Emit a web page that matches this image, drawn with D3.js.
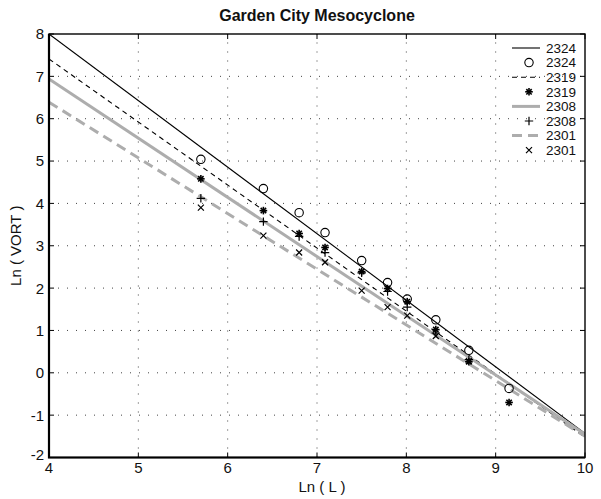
<!DOCTYPE html>
<html>
<head>
<meta charset="utf-8">
<script src="https://cdn.jsdelivr.net/npm/d3@7"></script>
<style>
  html, body { margin: 0; padding: 0; background: #fff; }
  svg { display: block; font-family: "Liberation Sans", Arial, sans-serif; }
</style>
</head>
<body>
<svg id="chart" width="601" height="499"></svg>
<script>
// Ln(L) positions of the observations
const lnL = [5.70, 6.40, 6.80, 7.09, 7.50, 7.79, 8.01, 8.33, 8.70, 9.15];

// Ln(VORT) observations per time
const obs2324 = [5.04, 4.35, 3.78, 3.31, 2.65, 2.13, 1.74, 1.25, 0.53, -0.37];
const obs2319 = [4.58, 3.83, 3.29, 2.96, 2.39, 1.99, 1.68, 1.02, 0.26, -0.70];
const obs2308 = [4.12, 3.57, 3.22, 2.84, 2.36, 1.92, 1.55, 0.94, 0.31];
const obs2301 = [3.90, 3.24, 2.84, 2.61, 1.94, 1.55, 1.35, 0.87, 0.28];

// fitted lines, value at Ln(L)=4 and Ln(L)=10
const fitX = [4, 10];
const fit2324 = [8.00, -1.43];
const fit2319 = [7.41, -1.52];
const fit2308 = [6.94, -1.45];
const fit2301 = [6.39, -1.50];

const xTicks = [4, 5, 6, 7, 8, 9, 10];
const yTicks = [-2, -1, 0, 1, 2, 3, 4, 5, 6, 7, 8];

const svg = d3.select("#chart");
const m = { top: 34, right: 16, bottom: 41.5, left: 49 };
const width = 601, height = 499;

const x = d3.scaleLinear().domain([4, 10]).range([m.left, width - m.right]);
const y = d3.scaleLinear().domain([-2, 8]).range([height - m.bottom, m.top]);

const defs = svg.append("defs");
defs.append("clipPath").attr("id", "plot")
  .append("rect")
  .attr("x", m.left).attr("y", m.top)
  .attr("width", width - m.left - m.right)
  .attr("height", height - m.top - m.bottom);

// dotted grid
const grid = svg.append("g").attr("stroke", "#444").attr("stroke-width", 1)
  .attr("stroke-dasharray", "1 8");
grid.selectAll(".gx").data(xTicks.slice(1, -1)).join("line")
  .attr("x1", d => x(d)).attr("x2", d => x(d))
  .attr("y1", y(-2)).attr("y2", y(8));
grid.selectAll(".gy").data(yTicks.slice(1, -1)).join("line")
  .attr("class", "gy")
  .attr("x1", x(4)).attr("x2", x(10))
  .attr("y1", d => y(d)).attr("y2", d => y(d));

// fitted lines
const fits = [
  { v: fit2324, stroke: "#000", w: 1.1, dash: null },
  { v: fit2319, stroke: "#000", w: 1.1, dash: "5 4" },
  { v: fit2308, stroke: "#adadad", w: 3, dash: null },
  { v: fit2301, stroke: "#adadad", w: 3, dash: "10 6" }
];
const line = d3.line().x(d => x(d[0])).y(d => y(d[1]));
const fitG = svg.append("g").attr("clip-path", "url(#plot)");
fits.forEach(f => {
  fitG.append("path")
    .datum(fitX.map((d, i) => [d, f.v[i]]))
    .attr("fill", "none")
    .attr("stroke", f.stroke)
    .attr("stroke-width", f.w)
    .attr("stroke-dasharray", f.dash)
    .attr("d", line);
});

// marker shapes
function marker(g, type) {
  if (type === "circle") {
    g.append("circle").attr("r", 4.2).attr("fill", "none").attr("stroke", "#000").attr("stroke-width", 1.1);
  } else if (type === "star") {
    const r = 3.8;
    [0, 45, 90, 135].forEach(a => {
      const t = a * Math.PI / 180;
      g.append("line")
        .attr("x1", -r * Math.cos(t)).attr("y1", -r * Math.sin(t))
        .attr("x2", r * Math.cos(t)).attr("y2", r * Math.sin(t))
        .attr("stroke", "#000").attr("stroke-width", 1.6);
    });
  } else if (type === "plus") {
    const r = 4.2;
    g.append("path").attr("d", `M${-r},0H${r}M0,${-r}V${r}`).attr("stroke", "#000").attr("stroke-width", 1.2);
  } else if (type === "cross") {
    const r = 3;
    g.append("path").attr("d", `M${-r},${-r}L${r},${r}M${-r},${r}L${r},${-r}`).attr("stroke", "#000").attr("stroke-width", 1.2);
  }
}

const series = [
  { v: obs2324, type: "circle" },
  { v: obs2319, type: "star" },
  { v: obs2308, type: "plus" },
  { v: obs2301, type: "cross" }
];
series.forEach(s => {
  svg.append("g").selectAll("g")
    .data(s.v.map((d, i) => [lnL[i], d]))
    .join("g")
    .attr("transform", d => `translate(${x(d[0])},${y(d[1])})`)
    .each(function() { marker(d3.select(this), s.type); });
});

// axes box with inward ticks
const tl = 5;
const axisG = svg.append("g").attr("stroke", "#000");
axisG.append("rect")
  .attr("x", m.left).attr("y", m.top)
  .attr("width", width - m.left - m.right)
  .attr("height", height - m.top - m.bottom)
  .attr("fill", "none").attr("stroke-width", 1.4);
axisG.append("path")
  .attr("d", `M${x(4)},${y(8)}V${y(-2)}H${x(10)}`)
  .attr("fill", "none").attr("stroke-width", 2.2);
axisG.selectAll(".tx").data(xTicks).join("path")
  .attr("stroke-width", 1)
  .attr("d", d => `M${x(d)},${y(-2)}v${-tl}M${x(d)},${y(8)}v${tl}`);
axisG.selectAll(".ty").data(yTicks).join("path")
  .attr("class", "ty")
  .attr("stroke-width", 1)
  .attr("d", d => `M${x(4)},${y(d)}h${tl}M${x(10)},${y(d)}h${-tl}`);

// tick labels
svg.append("g").selectAll("text").data(xTicks).join("text")
  .attr("x", d => x(d)).attr("y", y(-2) + 15)
  .attr("text-anchor", "middle")
  .attr("font-size", "15px").attr("fill", "#111")
  .text(d => d);
svg.append("g").selectAll("text").data(yTicks).join("text")
  .attr("x", m.left - 5).attr("y", d => y(d) - (d === -2 ? 3 : 0))
  .attr("dy", "0.36em")
  .attr("text-anchor", "end")
  .attr("font-size", "15px").attr("fill", "#111")
  .text(d => d);

// titles
svg.append("text")
  .attr("x", (m.left + width - m.right) / 2).attr("y", 21)
  .attr("text-anchor", "middle")
  .attr("font-size", "16px").attr("font-weight", "bold").attr("fill", "#111")
  .text("Garden City Mesocyclone");
svg.append("text")
  .attr("x", 322).attr("y", 492)
  .attr("text-anchor", "middle")
  .attr("font-size", "15px").attr("fill", "#111")
  .text("Ln ( L )");
svg.append("text")
  .attr("transform", `translate(21,${(m.top + height - m.bottom) / 2}) rotate(-90)`)
  .attr("text-anchor", "middle")
  .attr("font-size", "15px").attr("fill", "#111")
  .text("Ln ( VORT )");

// legend (transparent, no box)
const legendItems = [
  { label: "2324", fit: fits[0] },
  { label: "2324", type: "circle" },
  { label: "2319", fit: fits[1] },
  { label: "2319", type: "star" },
  { label: "2308", fit: fits[2] },
  { label: "2308", type: "plus" },
  { label: "2301", fit: fits[3] },
  { label: "2301", type: "cross" }
];
const leg = svg.append("g");
legendItems.forEach((it, i) => {
  const ly = 48 + i * 14.6;
  const g = leg.append("g").attr("transform", `translate(0,${ly})`);
  if (it.fit) {
    g.append("line").attr("x1", 512).attr("x2", 540).attr("y1", 0).attr("y2", 0)
      .attr("stroke", it.fit.stroke).attr("stroke-width", it.fit.w)
      .attr("stroke-dasharray", it.fit.dash);
  } else {
    const mg = g.append("g").attr("transform", "translate(529,0)");
    marker(mg, it.type);
  }
  g.append("text").attr("x", 546).attr("y", 0).attr("dy", "0.36em")
    .attr("font-size", "13.5px").attr("fill", "#111").text(it.label);
});
</script>
</body>
</html>
